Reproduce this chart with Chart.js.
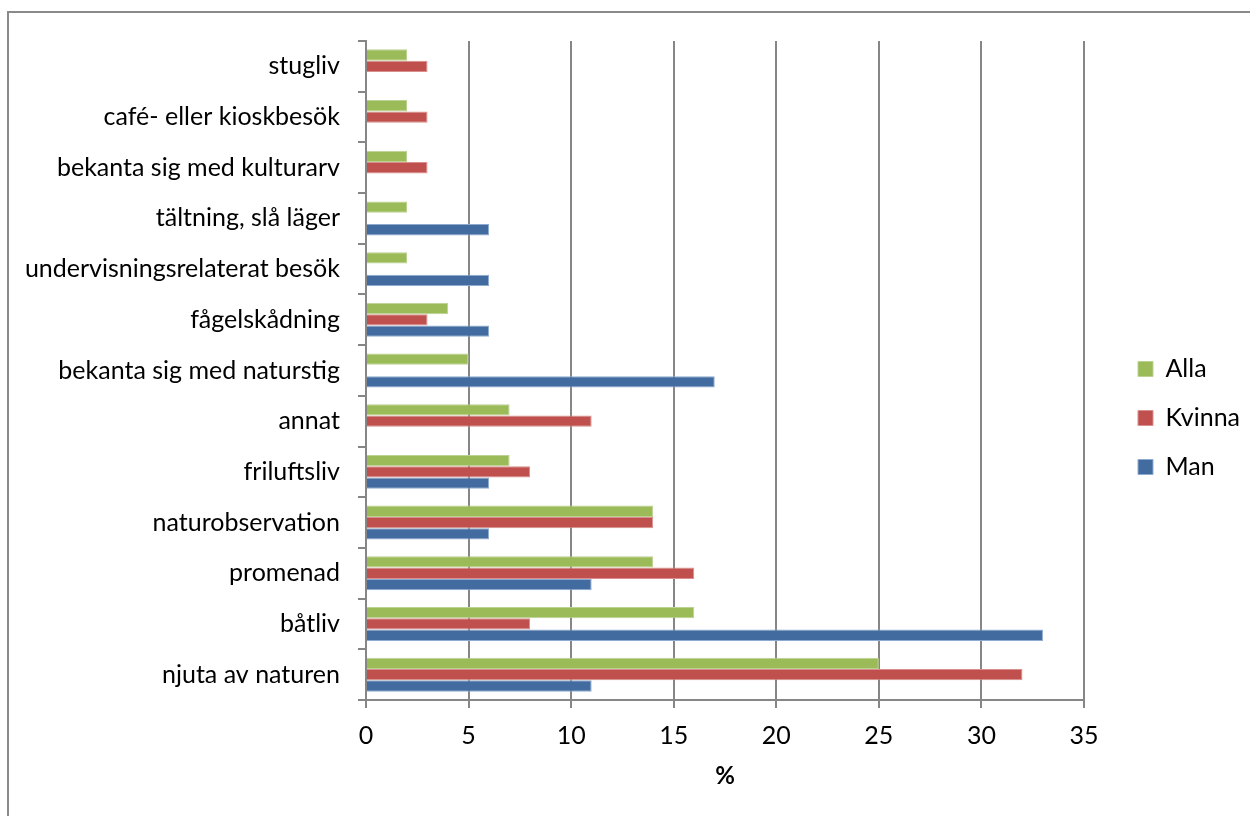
<!DOCTYPE html>
<html>
<head>
<meta charset="utf-8">
<script src="https://cdn.jsdelivr.net/npm/chart.js@4.4.0/dist/chart.umd.min.js"></script>
<style>
  html, body { margin: 0; padding: 0; background: #fff; overflow: hidden; }
  #frame {
    position: absolute; left: 7px; top: 11px; width: 1300px; height: 900px;
    border-left: 2px solid #8a8a8a; border-top: 2px solid #8a8a8a;
  }
  #wrap { position: absolute; left: 0; top: 0; width: 1250px; height: 816px; }
</style>
</head>
<body>
<div id="frame"></div>
<div id="wrap"><canvas id="chart" width="1250" height="816"></canvas></div>
<script>
// Activities, listed top to bottom
const categories = [
  'stugliv',
  'café- eller kioskbesök',
  'bekanta sig med kulturarv',
  'tältning, slå läger',
  'undervisningsrelaterat besök',
  'fågelskådning',
  'bekanta sig med naturstig',
  'annat',
  'friluftsliv',
  'naturobservation',
  'promenad',
  'båtliv',
  'njuta av naturen'
];

// Share of respondents (%)
const alla   = [2, 2, 2, 2, 2, 4, 5, 7, 7, 14, 14, 16, 25];
const kvinna = [3, 3, 3, 0, 0, 3, 0, 11, 8, 14, 16, 8, 32];
const man    = [0, 0, 0, 6, 6, 6, 17, 0, 6, 6, 11, 33, 11];

const seriesNames = ['Alla', 'Kvinna', 'Man'];
const xMin = 0, xMax = 35, xStep = 5;
const axisTitle = '%';

const FONT = 'Lato, "Open Sans", sans-serif';
const GRID = '#868686';

// Keeps the legend a little way off the plot's right edge
const legendOffset = {
  id: 'legendOffset',
  afterLayout(chart) {
    const lg = chart.legend;
    const dx = chart.chartArea.right + 30 - lg.left;
    lg.left += dx;
    lg.right += dx;
  }
};

new Chart(document.getElementById('chart'), {
  type: 'bar',
  data: {
    labels: categories,
    datasets: [
      { label: seriesNames[0], data: alla,   backgroundColor: '#9BBB59', borderColor: '#bcd291', borderWidth: 1 },
      { label: seriesNames[1], data: kvinna, backgroundColor: '#C0504D', borderColor: '#d98f8d', borderWidth: 1 },
      { label: seriesNames[2], data: man,    backgroundColor: '#426CA0', borderColor: '#8eaad0', borderWidth: 1 }
    ]
  },
  options: {
    indexAxis: 'y',
    responsive: false,
    animation: false,
    devicePixelRatio: 1,
    datasets: { bar: { barPercentage: 1.0, categoryPercentage: 0.67 } },
    layout: { padding: { top: 41, left: 0, right: 30, bottom: 21 } },
    plugins: {
      tooltip: { enabled: false },
      legend: {
        position: 'right',
        maxWidth: 140,
        labels: {
          boxWidth: 15, boxHeight: 15, padding: 24, color: '#000',
          font: { family: FONT, size: 25 }
        }
      }
    },
    scales: {
      x: {
        min: xMin, max: xMax,
        ticks: { stepSize: xStep, color: '#000', padding: 13, font: { family: FONT, size: 25 } },
        grid: { color: GRID, lineWidth: 2, tickLength: 8, tickColor: GRID },
        border: { color: GRID, width: 2 },
        title: {
          display: true, text: axisTitle, color: '#000',
          font: { family: FONT, size: 24, weight: 'bold' },
          padding: { top: 0, bottom: 4 }
        },
        afterFit(scale) { scale.height = 95; }
      },
      y: {
        ticks: { color: '#000', padding: 18, font: { family: FONT, size: 25 } },
        grid: { offset: true, drawOnChartArea: false, color: GRID, lineWidth: 2, tickLength: 8 },
        border: { color: GRID, width: 2 },
        afterFit(scale) { scale.width = 366; }
      }
    }
  },
  plugins: [legendOffset]
});
</script>
</body>
</html>
